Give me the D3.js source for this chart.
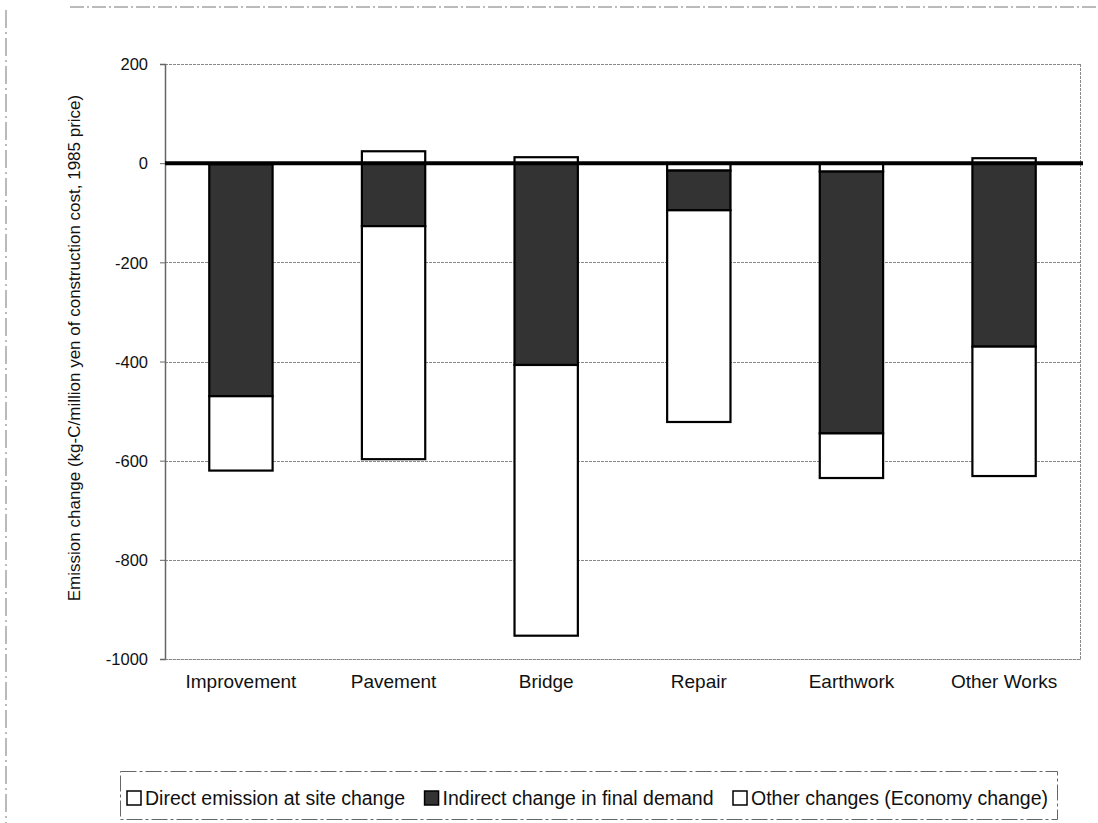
<!DOCTYPE html>
<html>
<head>
<meta charset="utf-8">
<script src="https://cdn.jsdelivr.net/npm/d3@7"></script>
<style>
  html, body { margin: 0; padding: 0; background: #fff; }
  svg { display: block; font-family: "Liberation Sans", Arial, sans-serif; }
</style>
</head>
<body>
<svg id="chart" width="1098" height="823"></svg>
<script>
// ---- data ----
const categories = ["Improvement", "Pavement", "Bridge", "Repair", "Earthwork", "Other Works"];
const directSite = [-2, 24, 12, -15, -17, 10];
const indirectFinal = [-468, -127, -407, -80, -528, -370];
const otherChanges = [-150, -470, -546, -427, -90, -261];
const seriesNames = ["Direct emission at site change", "Indirect change in final demand", "Other changes (Economy change)"];
const yTicks = [200, 0, -200, -400, -600, -800, -1000];
const yTitle = "Emission change (kg-C/million yen of construction cost, 1985 price)";

const seriesKeys = ["direct", "indirect", "other"];
const fills = { direct: "#ffffff", indirect: "#333333", other: "#ffffff" };

const rows = categories.map((c, i) => ({
  cat: c, direct: directSite[i], indirect: indirectFinal[i], other: otherChanges[i]
}));

const svg = d3.select("#chart");
const m = { left: 165, right: 1080, top: 64, bottom: 659 };

const x = d3.scaleBand().domain(categories).range([m.left, m.right]).paddingInner(0.585).paddingOuter(0.29);
const y = d3.scaleLinear().domain([-1000, 200]).range([m.bottom, m.top]);

// scan frame artifacts
svg.append("line").attr("x1", 70).attr("x2", 1098).attr("y1", 7).attr("y2", 7)
  .attr("stroke", "#777").attr("stroke-width", 1).attr("stroke-dasharray", "14,3,2,3");
svg.append("line").attr("x1", 6).attr("x2", 6).attr("y1", 10).attr("y2", 823)
  .attr("stroke", "#777").attr("stroke-width", 1).attr("stroke-dasharray", "18,4,2,4");

// gridlines (dotted)
svg.append("g").selectAll("line").data(yTicks.filter(d => d !== 0)).join("line")
  .attr("x1", m.left).attr("x2", m.right)
  .attr("y1", d => Math.round(y(d)) + 0.5).attr("y2", d => Math.round(y(d)) + 0.5)
  .attr("stroke", "#888").attr("stroke-width", 1).attr("stroke-dasharray", "3,1");

// right border
svg.append("line").attr("x1", m.right + 0.5).attr("x2", m.right + 0.5).attr("y1", m.top).attr("y2", m.bottom)
  .attr("stroke", "#888").attr("stroke-dasharray", "3,1");

// y axis
const yAxis = d3.axisLeft(y).tickValues(yTicks).tickSize(5).tickPadding(12).tickFormat(d => String(d));
const ga = svg.append("g").attr("transform", `translate(${m.left},0)`).call(yAxis);
ga.select(".domain").attr("stroke", "#666").attr("stroke-width", 1.5);
ga.selectAll(".tick line").attr("stroke", "#666");
ga.selectAll(".tick text").attr("font-size", 16.5).attr("fill", "#111")
  .attr("font-family", "'Liberation Sans', Arial, sans-serif").attr("dy", "0.35em");

// y title
svg.append("text")
  .attr("transform", `translate(${80},${348}) rotate(-90)`)
  .attr("text-anchor", "middle")
  .attr("font-size", 17).attr("fill", "#111")
  .text(yTitle);

// stacked bars
const stack = d3.stack().keys(seriesKeys).offset(d3.stackOffsetDiverging);
const stacked = stack(rows);

const gBars = svg.append("g");
stacked.forEach(layer => {
  gBars.append("g").selectAll("rect").data(layer).join("rect")
    .attr("x", d => x(d.data.cat))
    .attr("width", x.bandwidth())
    .attr("y", d => y(Math.max(d[0], d[1])))
    .attr("height", d => Math.abs(y(d[0]) - y(d[1])))
    .attr("fill", fills[layer.key])
    .attr("stroke", "#000").attr("stroke-width", 2.2);
});

// zero line
svg.append("line").attr("x1", m.left).attr("x2", m.right + 3)
  .attr("y1", y(0)).attr("y2", y(0))
  .attr("stroke", "#000").attr("stroke-width", 4);

// category labels
const xAxis = d3.axisBottom(x).tickSize(0).tickPadding(0);
const gx = svg.append("g").attr("transform", `translate(0,${m.bottom})`).call(xAxis);
gx.select(".domain").attr("stroke", "#888").attr("stroke-dasharray", "3,1");
gx.selectAll(".tick text").attr("font-size", 19).attr("fill", "#111")
  .attr("font-family", "'Liberation Sans', Arial, sans-serif").attr("dy", "1.55em");

// legend
const lg = svg.append("g");
lg.append("rect").attr("x", 120.5).attr("y", 771.5).attr("width", 937).attr("height", 48)
  .attr("fill", "none").attr("stroke", "#666").attr("stroke-dasharray", "16,3,3,3");
const items = seriesKeys.map((k, i) => {
  const g = lg.append("g");
  g.append("rect").attr("x", 0).attr("y", 0).attr("width", 14).attr("height", 14)
    .attr("fill", fills[k]).attr("stroke", "#000").attr("stroke-width", 1.5);
  const t = g.append("text").attr("x", 18).attr("y", 14).attr("font-size", 19.5).attr("fill", "#111")
    .text(seriesNames[i]);
  return { g, w: 18 + t.node().getComputedTextLength() };
});
const startX = 127, endX = 1048;
const totalW = d3.sum(items, d => d.w);
const gap = (endX - startX - totalW) / (items.length - 1);
let cx = startX;
items.forEach(it => {
  it.g.attr("transform", `translate(${cx},${791})`);
  cx += it.w + gap;
});
</script>
</body>
</html>
